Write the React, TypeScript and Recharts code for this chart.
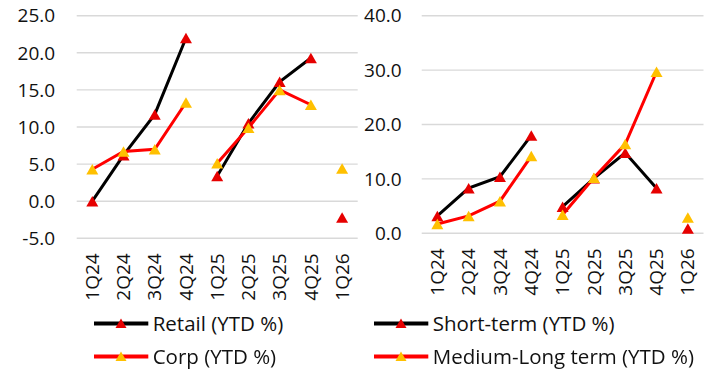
import React from 'react';
import { LineChart, Line, XAxis, YAxis, CartesianGrid, Legend } from 'recharts';

const quarters = ['1Q24', '2Q24', '3Q24', '4Q24', '1Q25', '2Q25', '3Q25', '4Q25', '1Q26'];
const segments = [0, 0, 0, 0, 1, 1, 1, 1, 2];
const retail = [0.0, 6.2, 11.7, 22.0, 3.4, 10.5, 16.1, 19.3, -2.2];
const corp = [4.3, 6.7, 7.0, 13.3, 5.1, 9.9, 15.0, 13.0, 4.4];
const shortTerm = [3.2, 8.3, 10.4, 18.0, 4.9, 10.1, 14.8, 8.3, 0.9];
const mediumLong = [1.7, 3.2, 5.9, 14.2, 3.4, 10.2, 16.4, 29.7, 2.9];
const leftTicks = [-5, 0, 5, 10, 15, 20, 25];
const rightTicks = [0, 10, 20, 30, 40];

const FONT = '"Open Sans", sans-serif';
const TEXT = '#111111';
const BLACK = '#000000';
const RED_LINE = '#FF0000';
const RED_MARK = '#E60000';
const YELLOW = '#FFC000';

type SeriesDef = { key: string; name: string; values: number[]; stroke: string; marker: string };

function buildTable(series: SeriesDef[]) {
  return quarters.map((q, i) => {
    const row: Record<string, any> = { q };
    series.forEach((s) => {
      [0, 1, 2].forEach((seg) => {
        row[`${s.key}_${seg}`] = segments[i] === seg ? s.values[i] : null;
      });
    });
    return row;
  });
}

const makeTriangle = (fill: string) => (props: any) => {
  const { cx, cy, value, index } = props;
  if (cx == null || cy == null || value == null) return <g key={`e${index}`} />;
  const w = 12;
  const h = 10.5;
  return (
    <path
      key={`t${index}`}
      d={`M${cx},${cy - h / 2} L${cx + w / 2},${cy + h / 2} L${cx - w / 2},${cy + h / 2} Z`}
      fill={fill}
      stroke="none"
    />
  );
};

const XTick = (props: any) => {
  const { x, y, payload } = props;
  return (
    <text
      x={x}
      y={y}
      transform={`rotate(-90, ${x}, ${y})`}
      textAnchor="end"
      dy="0.35em"
      fontSize={19}
      fontFamily={FONT}
      fill={TEXT}
    >
      {payload.value}
    </text>
  );
};

const LegendContent = ({ series }: { series: SeriesDef[] }) => (
  <div style={{ height: 66, fontFamily: FONT, fontSize: 20.5, color: TEXT }}>
    {series.map((s) => (
      <div key={s.key} style={{ height: 33, display: 'flex', alignItems: 'center', whiteSpace: 'nowrap' }}>
        <svg width={58.7} height={33} style={{ display: 'block', flex: 'none' }}>
          <line x1={0} y1={16.5} x2={54.3} y2={16.5} stroke={s.stroke} strokeWidth={4} />
          <path d={`M27,11.5 L32.5,21 L21.5,21 Z`} fill={s.marker} />
        </svg>
        <span style={{ lineHeight: '33px' }}>{s.name}</span>
      </div>
    ))}
  </div>
);

function Panel({
  series,
  width,
  yWidth,
  tickMargin,
  marginRight,
  marginBottom,
  domain,
  ticks,
  legendLeft,
  pad,
}: {
  series: SeriesDef[];
  width: number;
  yWidth: number;
  tickMargin: number;
  marginRight: number;
  marginBottom: number;
  domain: [number, number];
  ticks: number[];
  legendLeft: number;
  pad: number;
}) {
  const data = buildTable(series);
  return (
    <LineChart
      width={width}
      height={370}
      data={data}
      margin={{ top: 15.7, right: marginRight, left: 0, bottom: marginBottom }}
    >
      <CartesianGrid vertical={false} stroke="#d9d9d9" strokeWidth={1.4} />
      <XAxis
        dataKey="q"
        axisLine={false}
        tickLine={false}
        tickSize={0}
        tickMargin={15}
        height={60}
        interval={0}
        padding={{ left: pad, right: pad }}
        tick={<XTick />}
      />
      <YAxis
        domain={domain}
        ticks={ticks}
        axisLine={false}
        tickLine={false}
        tickSize={0}
        tickMargin={tickMargin}
        width={yWidth}
        tickFormatter={(v: number) => v.toFixed(1)}
        tick={{ fontSize: 19, fontFamily: FONT, fill: TEXT }}
        interval={0}
      />
      <Legend
        verticalAlign="bottom"
        wrapperStyle={{ left: legendLeft, top: 306.8, width: 'auto' }}
        content={() => <LegendContent series={series} />}
      />
      {series.flatMap((s) =>
        [0, 1, 2].map((seg) => (
          <Line
            key={`${s.key}_${seg}`}
            dataKey={`${s.key}_${seg}`}
            name={s.name}
            stroke={s.stroke}
            strokeWidth={3}
            dot={makeTriangle(s.marker)}
            activeDot={false}
            connectNulls={false}
            isAnimationActive={false}
            legendType="none"
            type="linear"
          />
        ))
      )}
    </LineChart>
  );
}

const leftSeries: SeriesDef[] = [
  { key: 'retail', name: 'Retail (YTD %)', values: retail, stroke: BLACK, marker: RED_MARK },
  { key: 'corp', name: 'Corp (YTD %)', values: corp, stroke: RED_LINE, marker: YELLOW },
];
const rightSeries: SeriesDef[] = [
  { key: 'st', name: 'Short-term (YTD %)', values: shortTerm, stroke: BLACK, marker: RED_MARK },
  { key: 'ml', name: 'Medium-Long term (YTD %)', values: mediumLong, stroke: RED_LINE, marker: YELLOW },
];

export default function App() {
  return (
    <div style={{ position: 'fixed', left: 0, top: 0, width: 715, height: 370, background: '#fff' }}>
      <div style={{ position: 'absolute', left: 0, top: 0 }}>
        <Panel
          series={leftSeries}
          width={360}
          yWidth={76.7}
          tickMargin={21.5}
          marginRight={2.3}
          marginBottom={5.7}
          domain={[-5, 25]}
          ticks={leftTicks}
          legendLeft={94}
          pad={15.6}
        />
      </div>
      <div style={{ position: 'absolute', left: 360, top: 0 }}>
        <Panel
          series={rightSeries}
          width={355}
          yWidth={61.7}
          tickMargin={20}
          marginRight={11.5}
          marginBottom={10.7}
          domain={[0, 40]}
          ticks={rightTicks}
          legendLeft={14}
          pad={15.65}
        />
      </div>
    </div>
  );
}
